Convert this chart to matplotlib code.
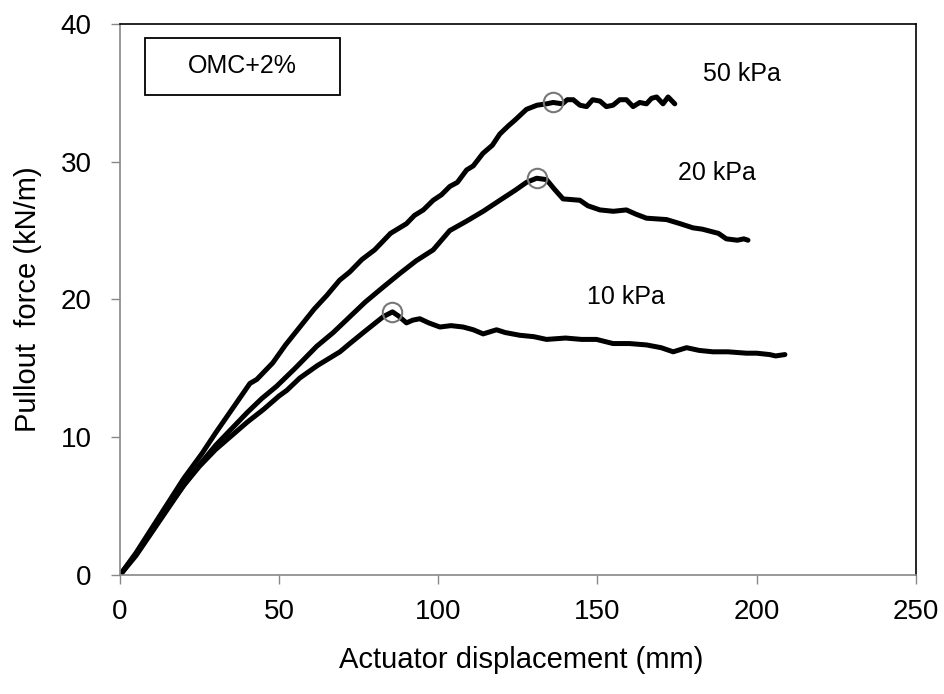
import matplotlib
matplotlib.use("Agg")
import matplotlib.pyplot as plt
from matplotlib.patches import Rectangle

plt.rcParams['font.family'] = ['Liberation Sans', 'DejaVu Sans']

x_50 = [0, 5, 10, 15, 20, 25.7, 30, 35.1, 40.8, 43, 48, 52, 56.5, 61, 65, 69, 72.2, 76, 80, 85, 90, 92.5, 95.3, 98.4, 101,
        103.6, 106, 108.9, 111, 114, 117, 119.3, 122, 124, 127.7, 131, 134, 136.1, 139, 140.5, 142.4, 144.5, 146.6, 148.5,
        150.8, 152.8, 154.9, 157, 159.1, 161.2, 163.3, 165.4, 167, 168.6, 170.6, 172.2, 174.3]
y_50 = [0, 1.6, 3.4, 5.2, 7.0, 8.8, 10.3, 12.0, 13.9, 14.2, 15.4, 16.7, 18.0, 19.3, 20.3, 21.4, 22.0, 22.9, 23.6, 24.8, 25.5, 26.1, 26.5, 27.2, 27.6,
        28.2, 28.5, 29.4, 29.7, 30.6, 31.2, 32.0, 32.6, 33.0, 33.8, 34.1, 34.2, 34.3, 34.2, 34.5, 34.5, 34.1, 34.0, 34.5,
        34.4, 34.0, 34.1, 34.5, 34.5, 34.0, 34.3, 34.2, 34.6, 34.7, 34.2, 34.7, 34.2]

x_20 = [0, 5, 10, 15, 20, 25, 30, 35, 40, 44.5, 49.2, 55, 61.8, 67, 72, 77, 82.7, 88, 93, 98.4, 103.6, 109, 114.1, 120,
        124, 127.7, 130.9, 134, 136.5, 139.2, 144.5, 147, 150.8, 155, 159.1, 162, 165.4, 171.7, 176, 180, 183, 186.3,
        188, 190.5, 194, 196, 197.3]
y_20 = [0, 1.5, 3.2, 4.9, 6.5, 8.0, 9.4, 10.6, 11.8, 12.8, 13.7, 15.0, 16.6, 17.6, 18.7, 19.8, 20.9, 21.9, 22.8, 23.6, 25.0, 25.7, 26.4, 27.3,
        27.9, 28.5, 28.8, 28.7, 28.0, 27.3, 27.2, 26.8, 26.5, 26.4, 26.5, 26.2, 25.9, 25.8, 25.5, 25.2, 25.1, 24.9,
        24.8, 24.4, 24.3, 24.4, 24.3]

x_10 = [0, 5, 10, 15, 20, 25, 30, 35, 40, 45, 50, 52.4, 56.5, 62, 69.1, 72.2, 77, 82.7, 85.6, 87.5, 90, 92, 94.2, 97,
        100.5, 104, 107.8, 111, 114.1, 118.3, 121, 125.6, 130, 134, 140, 145, 149.7, 154.9, 160, 165.4, 170, 173.8,
        178, 182, 186.3, 191, 196.8, 200, 204.1, 206, 208.9]
y_10 = [0, 1.4, 3.1, 4.8, 6.5, 7.9, 9.1, 10.1, 11.1, 12.0, 13.0, 13.4, 14.3, 15.2, 16.2, 16.8, 17.7, 18.75, 19.1, 18.8, 18.3, 18.5, 18.6, 18.3,
        18.0, 18.1, 18.0, 17.8, 17.5, 17.8, 17.6, 17.4, 17.3, 17.1, 17.2, 17.1, 17.1, 16.8, 16.8, 16.7, 16.5, 16.2,
        16.5, 16.3, 16.2, 16.2, 16.1, 16.1, 16.0, 15.9, 16.0]

peak_x = [85.6, 130.9, 136.1]
peak_y = [19.1, 28.8, 34.3]

labels = ["50 kPa", "20 kPa", "10 kPa"]
label_x = [195.3, 187.5, 158.9]
label_y = [36.4, 29.2, 20.2]

xticks = [0, 50, 100, 150, 200, 250]
yticks = [0, 10, 20, 30, 40]

fig = plt.figure(figsize=(9.45, 6.94), dpi=100)
ax = fig.add_axes([0.127, 0.1715, 0.842, 0.794])

for xs, ys in [(x_50, y_50), (x_20, y_20), (x_10, y_10)]:
    ax.plot(xs, ys, color='black', lw=3.6, solid_joinstyle='round', solid_capstyle='round')

ax.plot(peak_x, peak_y, 'o', mfc='none', mec='#777777', ms=14, mew=1.5)

for t, lx, ly in zip(labels, label_x, label_y):
    ax.text(lx, ly, t, ha='center', va='center', fontsize=18)

ax.set_xlim(0, 250)
ax.set_ylim(0, 40)
ax.set_xticks(xticks)
ax.set_yticks(yticks)
ax.tick_params(direction='out', length=6.5, color='#888888', width=1.0, labelsize=20)
ax.tick_params(axis='x', pad=11)
ax.tick_params(axis='y', pad=14)
for s in ['left', 'bottom']:
    ax.spines[s].set_color('#888888')
for s in ['top', 'right']:
    ax.spines[s].set_color('black')
for s in ax.spines.values():
    s.set_linewidth(1.2)

ax.set_xlabel('Actuator displacement (mm)', fontsize=21)
ax.set_ylabel('Pullout  force (kN/m)', fontsize=21)
ax.xaxis.set_label_coords(0.504, -0.129)
ax.yaxis.set_label_coords(-0.098, 0.5)

rect = Rectangle((0.031, 0.871), 0.245, 0.104, transform=ax.transAxes,
                 fill=False, edgecolor='black', lw=1.3)
ax.add_patch(rect)
ax.text(0.1535, 0.923, 'OMC+2%', transform=ax.transAxes, ha='center', va='center', fontsize=18)

fig.savefig('out.png', dpi=100)
